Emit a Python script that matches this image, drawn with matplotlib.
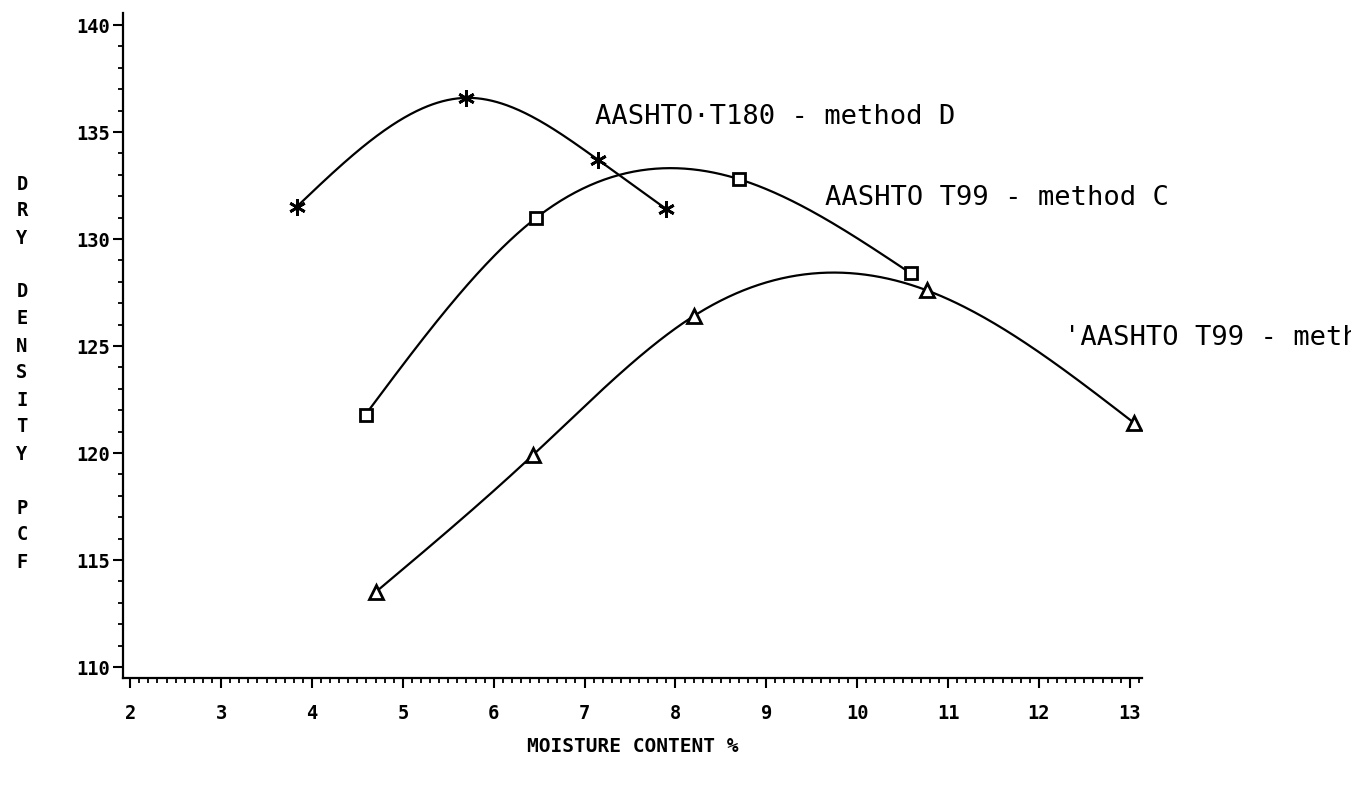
import numpy as np
import matplotlib.pyplot as plt
from matplotlib.ticker import MultipleLocator

# moisture content (%) vs dry density (pcf) for the three compaction tests
t180_moist = [3.83, 5.70, 7.15, 7.90]
t180_dens = [131.5, 136.6, 133.7, 131.4]

t99c_moist = [4.59, 6.47, 8.70, 10.59]
t99c_dens = [121.8, 131.0, 132.8, 128.4]

t99a_moist = [4.70, 6.43, 8.20, 10.77, 13.05]
t99a_dens = [113.5, 119.9, 126.4, 127.6, 121.4]

x_ticks = list(range(2, 14))
y_ticks = [110, 115, 120, 125, 130, 135, 140]


def natural_spline(x, y, n=300):
    # smooth curve through every point (natural cubic spline)
    x = np.asarray(x, float)
    y = np.asarray(y, float)
    h = np.diff(x)
    k = len(x)
    A = np.zeros((k, k))
    r = np.zeros(k)
    A[0, 0] = A[-1, -1] = 1
    for i in range(1, k - 1):
        A[i, i - 1] = h[i - 1]
        A[i, i] = 2 * (h[i - 1] + h[i])
        A[i, i + 1] = h[i]
        r[i] = 6 * ((y[i + 1] - y[i]) / h[i] - (y[i] - y[i - 1]) / h[i - 1])
    m = np.linalg.solve(A, r)
    xs = np.linspace(x[0], x[-1], n)
    idx = np.clip(np.searchsorted(x, xs) - 1, 0, k - 2)
    x0, x1 = x[idx], x[idx + 1]
    hh = x1 - x0
    a = (x1 - xs) / hh
    b = (xs - x0) / hh
    ys = a * y[idx] + b * y[idx + 1] + ((a**3 - a) * m[idx] + (b**3 - b) * m[idx + 1]) * hh**2 / 6
    return xs, ys


fig = plt.figure(figsize=(13.51, 7.85), dpi=100)
ax = fig.add_axes([0.091, 0.1363, 0.754, 0.847])

lw = 1.6
for xs, ys, mk, ms in [(t180_moist, t180_dens, (6, 2, 0), 12),
                       (t99c_moist, t99c_dens, 's', 9),
                       (t99a_moist, t99a_dens, '^', 10)]:
    cx, cy = natural_spline(xs, ys)
    ax.plot(cx, cy, color='black', lw=lw)
    ax.plot(xs, ys, linestyle='none', marker=mk, markersize=ms,
            markerfacecolor='white', markeredgecolor='black', markeredgewidth=2)

label_font = dict(family='DejaVu Sans Mono', fontsize=19.5, color='black', va='center', ha='left')
ax.text(7.12, 135.7, 'AASHTO·T180 - method D', **label_font)
ax.text(9.65, 131.9, 'AASHTO T99 - method C', **label_font)
# runs off the right edge of the sheet
ax.text(12.28, 125.4, "'AASHTO T99 - method A", clip_on=False, **label_font)

ax.set_xlim(1.92, 13.13)
ax.set_ylim(109.49, 140.56)
ax.set_xticks(x_ticks)
ax.set_yticks(y_ticks)
ax.xaxis.set_minor_locator(MultipleLocator(0.1))
ax.yaxis.set_minor_locator(MultipleLocator(1))

for side in ['top', 'right']:
    ax.spines[side].set_visible(False)
for side in ['left', 'bottom']:
    ax.spines[side].set_linewidth(1.6)

tick_font = dict(family='DejaVu Sans Mono', weight='bold', size=13.5)
ax.tick_params(axis='both', which='major', direction='out', length=7, width=1.5, pad=6)
ax.tick_params(axis='both', which='minor', direction='out', length=3.5, width=1.3)
ax.tick_params(axis='y', which='major', pad=2)
ax.tick_params(axis='x', which='major', pad=12)
for lab in ax.get_xticklabels() + ax.get_yticklabels():
    lab.set_fontfamily(tick_font['family'])
    lab.set_fontweight(tick_font['weight'])
    lab.set_fontsize(tick_font['size'])

ax.set_xlabel('MOISTURE CONTENT %', family='DejaVu Sans Mono', weight='bold',
              fontsize=14, labelpad=10)

# stacked y-axis title, one letter per row, blank row between words
ylab = 'DRY DENSITY PCF'
for row, ch in enumerate(ylab):
    if ch != ' ':
        fig.text(22 / 1351, 1 - (184 + row * 27) / 785, ch, family='DejaVu Sans Mono',
                 weight='bold', fontsize=13.5, ha='center', va='center')

fig.savefig('out.png', dpi=100)
